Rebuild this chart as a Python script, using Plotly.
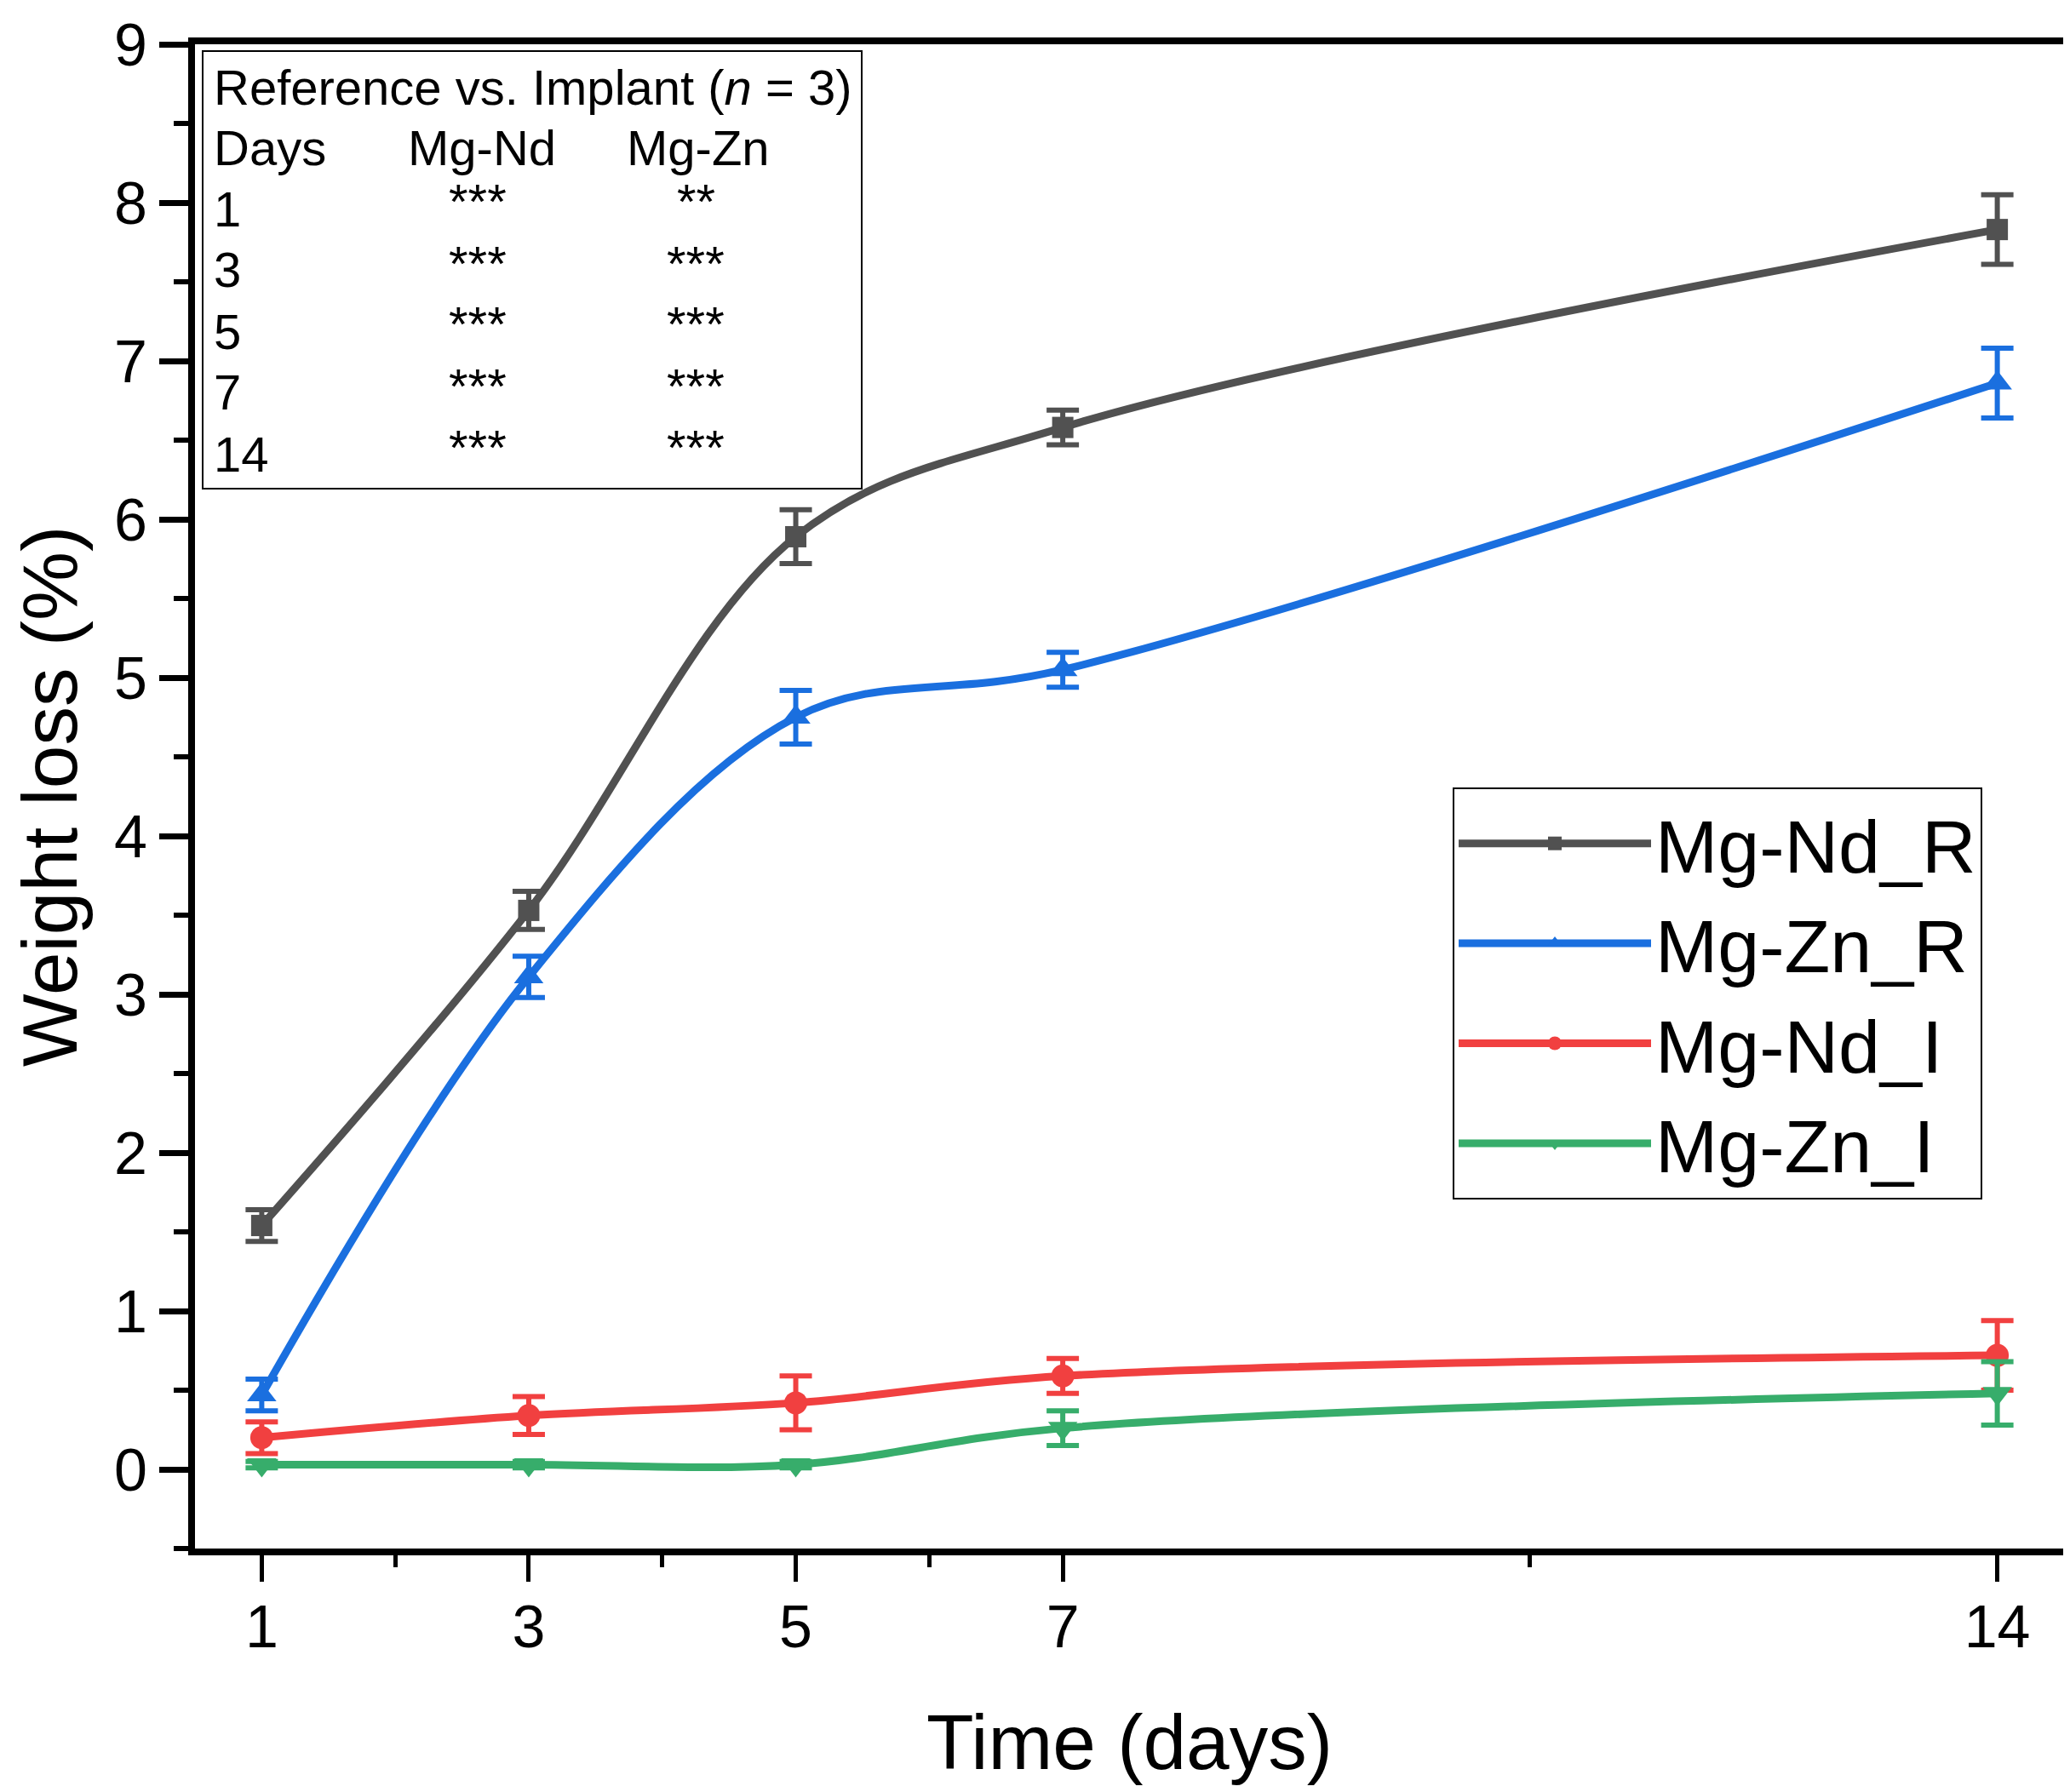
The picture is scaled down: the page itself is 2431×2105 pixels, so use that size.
import plotly.graph_objects as go

# Weight loss (%) over time
days = [1, 3, 5, 7, 14]

mgnd_r = [1.54, 3.53, 5.89, 6.58, 7.83]
mgnd_r_err = [0.10, 0.12, 0.17, 0.11, 0.22]

mgzn_r = [0.47, 3.11, 4.75, 5.05, 6.86]
mgzn_r_err = [0.10, 0.13, 0.17, 0.11, 0.22]

mgnd_i = [0.20, 0.34, 0.42, 0.59, 0.72]
mgnd_i_err = [0.10, 0.12, 0.17, 0.11, 0.22]

mgzn_i = [0.03, 0.03, 0.03, 0.26, 0.48]
mgzn_i_err = [0.02, 0.02, 0.02, 0.11, 0.20]

series_names = ["Mg-Nd_R", "Mg-Zn_R", "Mg-Nd_I", "Mg-Zn_I"]

# Significance table (reference vs. implant)
table_days = ["1", "3", "5", "7", "14"]
sig_mgnd = ["***", "***", "***", "***", "***"]
sig_mgzn = ["**", "***", "***", "***", "***"]

FONT = "Liberation Sans"
# page has an 8px body margin, so the figure is a bit smaller than the window
OFF = 8
W, H = 2423, 2097
ML, MR, MT, MB = 221, 7, 44, 286

series = [
    (mgnd_r, mgnd_r_err, "#515151", "square", 25),
    (mgzn_r, mgzn_r_err, "#1A6FDF", "triangle-up", 30),
    (mgnd_i, mgnd_i_err, "#F14040", "circle", 27),
    (mgzn_i, mgzn_i_err, "#37AD6B", "triangle-down", 30),
]

fig = go.Figure()
for name, (vals, errs, color, symbol, msize) in zip(series_names, series):
    fig.add_trace(
        go.Scatter(
            x=days,
            y=vals,
            name=name,
            mode="lines+markers",
            line={"color": color, "width": 9, "shape": "spline", "smoothing": 1.0},
            marker={"color": color, "symbol": symbol, "size": msize},
            error_y={
                "type": "data",
                "array": errs,
                "visible": True,
                "color": color,
                "thickness": 6,
                "width": 19,
            },
        )
    )

# helpers to convert page pixel positions to paper coords
pw = W - ML - MR
ph = H - MT - MB


def px(x):
    return (x - OFF - ML) / pw


def py(y):
    return (H - MB - (y - OFF)) / ph


annotations = []
tfont = {"family": FONT, "size": 58, "color": "black"}
annotations.append(dict(
    text="Reference vs. Implant (<i>n</i> = 3)", x=px(249), y=py(102),
    xanchor="left", yanchor="middle",
))
annotations.append(dict(text="Days", x=px(249), y=py(174), xanchor="left", yanchor="middle"))
annotations.append(dict(text="Mg-Nd", x=px(566), y=py(174), xanchor="center", yanchor="middle"))
annotations.append(dict(text="Mg-Zn", x=px(820), y=py(174), xanchor="center", yanchor="middle"))
for i, (d, s1, s2) in enumerate(zip(table_days, sig_mgnd, sig_mgzn)):
    row_y = 245 + i * 72
    annotations.append(dict(text=d, x=px(249), y=py(row_y), xanchor="left", yanchor="middle"))
    annotations.append(dict(text=s1, x=px(561), y=py(row_y - 8), xanchor="center", yanchor="middle"))
    annotations.append(dict(text=s2, x=px(817), y=py(row_y - 8), xanchor="center", yanchor="middle"))
for a in annotations:
    a.update(xref="paper", yref="paper", showarrow=False, font=tfont)

fig.update_layout(
    width=W,
    height=H,
    margin={"l": ML, "r": MR, "t": MT, "b": MB},
    paper_bgcolor="white",
    plot_bgcolor="white",
    font={"family": FONT, "color": "black"},
    showlegend=True,
    legend={
        "x": px(1706),
        "y": py(925),
        "xanchor": "left",
        "yanchor": "top",
        "bordercolor": "black",
        "borderwidth": 2,
        "bgcolor": "white",
        "font": {"family": FONT, "size": 88, "color": "black"},
        "itemwidth": 226,
        "tracegroupgap": 0,
    },
    annotations=annotations,
    shapes=[
        dict(
            type="rect", xref="paper", yref="paper",
            x0=px(238), x1=px(1012), y0=py(574), y1=py(60),
            line={"color": "black", "width": 2},
        )
    ],
)

fig.update_xaxes(
    range=[0.5, 14.5],
    tickmode="array",
    tickvals=days,
    ticktext=[str(d) for d in days],
    ticks="outside",
    ticklen=31,
    tickwidth=5,
    tickcolor="black",
    tickfont={"family": FONT, "size": 70},
    ticklabelstandoff=-7,
    minor={"tickmode": "array", "tickvals": [2, 4, 6, 10.5], "ticks": "outside",
           "ticklen": 14, "tickwidth": 5, "tickcolor": "black"},
    showline=True,
    linewidth=8,
    linecolor="black",
    mirror=True,
    showgrid=False,
    zeroline=False,
    title={"text": "Time (days)", "font": {"family": FONT, "size": 91}, "standoff": 68},
    automargin=False,
)

fig.update_yaxes(
    range=[-0.5, 9],
    tickmode="linear",
    tick0=0,
    dtick=1,
    ticks="outside",
    ticklen=34,
    tickwidth=7,
    tickcolor="black",
    tickfont={"family": FONT, "size": 70},
    ticklabelstandoff=0,
    minor={"dtick": 0.5, "ticks": "outside", "ticklen": 17, "tickwidth": 6,
           "tickcolor": "black"},
    showline=True,
    linewidth=8,
    linecolor="black",
    mirror=True,
    showgrid=False,
    zeroline=False,
    title={"text": "Weight loss (%)", "font": {"family": FONT, "size": 91}, "standoff": 52},
    automargin=False,
)

fig.write_html("out.html")
